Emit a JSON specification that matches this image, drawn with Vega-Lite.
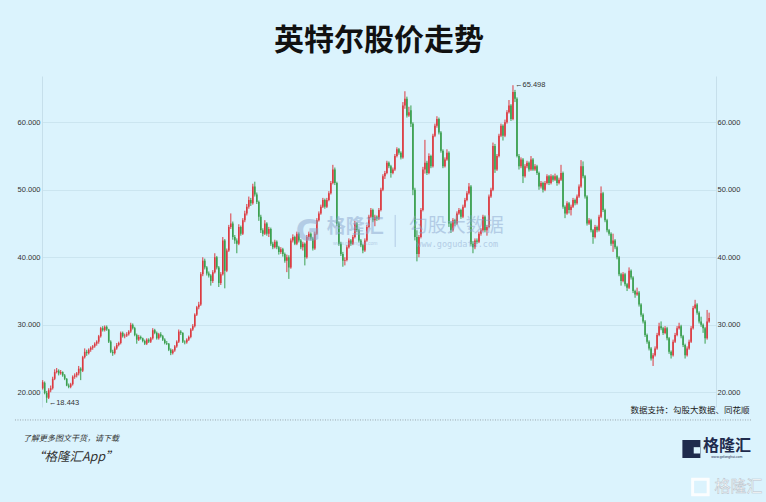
{
"$schema": "https://vega.github.io/schema/vega-lite/v6.json",
"width": 674, "height": 331,
"autosize": {"type": "none"},
"padding": {"left": 42, "top": 76, "right": 50, "bottom": 95},
"background": "#dbf3fd",
"config": {"view": {"stroke": null}, "font": "Noto Sans CJK SC"},
"title": {"text": "英特尔股价走势", "fontSize": 30, "fontWeight": "bold", "color": "#111111", "anchor": "middle", "offset": 20, "font": "Noto Sans CJK SC"},
"datasets": {
"k": [
{"i":0,"o":20.6,"h":21.8,"l":20.4,"c":21.5},{"i":1,"o":21.4,"h":21.6,"l":19.7,"c":19.9},{"i":2,"o":19.9,"h":20.2,"l":18.443,"c":19.2},{"i":3,"o":19.2,"h":20.6,"l":19.0,"c":20.3},{"i":4,"o":20.3,"h":21.0,"l":20.0,"c":20.6},
{"i":5,"o":20.6,"h":22.3,"l":20.4,"c":22.0},{"i":6,"o":22.0,"h":23.4,"l":21.8,"c":23.0},{"i":7,"o":23.0,"h":23.6,"l":22.8,"c":23.2},{"i":8,"o":23.2,"h":23.4,"l":22.5,"c":22.8},{"i":9,"o":22.8,"h":23.3,"l":22.6,"c":23.0},
{"i":10,"o":23.0,"h":23.1,"l":22.3,"c":22.5},{"i":11,"o":22.5,"h":22.7,"l":21.8,"c":22.0},{"i":12,"o":22.0,"h":22.1,"l":20.9,"c":21.0},{"i":13,"o":21.0,"h":21.3,"l":20.6,"c":20.8},{"i":14,"o":20.8,"h":21.4,"l":20.6,"c":21.2},
{"i":15,"o":21.2,"h":22.5,"l":21.0,"c":22.3},{"i":16,"o":22.3,"h":22.8,"l":22.0,"c":22.5},{"i":17,"o":22.5,"h":23.0,"l":22.2,"c":22.8},{"i":18,"o":22.8,"h":23.9,"l":22.5,"c":23.5},{"i":19,"o":23.5,"h":23.7,"l":21.8,"c":23.2},
{"i":20,"o":23.2,"h":25.4,"l":23.0,"c":25.2},{"i":21,"o":25.2,"h":26.5,"l":25.0,"c":26.0},{"i":22,"o":26.0,"h":26.3,"l":25.4,"c":25.8},{"i":23,"o":25.8,"h":26.5,"l":25.6,"c":26.3},{"i":24,"o":26.3,"h":26.8,"l":26.0,"c":26.6},
{"i":25,"o":26.6,"h":27.0,"l":26.3,"c":26.8},{"i":26,"o":26.8,"h":27.4,"l":26.6,"c":27.2},{"i":27,"o":27.2,"h":27.7,"l":26.9,"c":27.5},{"i":28,"o":27.5,"h":28.5,"l":27.2,"c":28.3},{"i":29,"o":28.3,"h":29.7,"l":28.1,"c":29.5},
{"i":30,"o":29.5,"h":29.8,"l":29.0,"c":29.2},{"i":31,"o":29.2,"h":29.9,"l":29.0,"c":29.7},{"i":32,"o":29.7,"h":29.9,"l":29.1,"c":29.3},{"i":33,"o":29.3,"h":29.4,"l":27.3,"c":27.5},{"i":34,"o":27.5,"h":27.7,"l":25.8,"c":26.0},
{"i":35,"o":26.0,"h":26.3,"l":25.4,"c":25.8},{"i":36,"o":25.8,"h":26.8,"l":25.6,"c":26.5},{"i":37,"o":26.5,"h":27.3,"l":26.3,"c":27.0},{"i":38,"o":27.0,"h":27.5,"l":26.8,"c":27.3},{"i":39,"o":27.3,"h":29.0,"l":27.1,"c":28.8},
{"i":40,"o":28.8,"h":29.0,"l":28.1,"c":28.3},{"i":41,"o":28.3,"h":28.7,"l":28.0,"c":28.4},{"i":42,"o":28.4,"h":28.9,"l":28.2,"c":28.6},{"i":43,"o":28.6,"h":29.2,"l":28.4,"c":29.0},{"i":44,"o":29.0,"h":30.3,"l":28.8,"c":30.0},
{"i":45,"o":30.0,"h":30.2,"l":29.3,"c":29.5},{"i":46,"o":29.5,"h":29.7,"l":28.3,"c":28.5},{"i":47,"o":28.5,"h":28.7,"l":27.2,"c":27.8},{"i":48,"o":27.8,"h":28.5,"l":27.6,"c":28.2},{"i":49,"o":28.2,"h":28.4,"l":27.8,"c":28.0},
{"i":50,"o":28.0,"h":28.1,"l":27.4,"c":27.6},{"i":51,"o":27.6,"h":27.8,"l":27.0,"c":27.2},{"i":52,"o":27.2,"h":28.0,"l":27.0,"c":27.8},{"i":53,"o":27.8,"h":28.0,"l":27.3,"c":27.5},{"i":54,"o":27.5,"h":28.2,"l":27.3,"c":28.0},
{"i":55,"o":28.0,"h":29.5,"l":27.8,"c":29.2},{"i":56,"o":29.2,"h":29.4,"l":28.6,"c":28.8},{"i":57,"o":28.8,"h":29.0,"l":27.8,"c":28.0},{"i":58,"o":28.0,"h":28.8,"l":27.8,"c":28.6},{"i":59,"o":28.6,"h":28.9,"l":28.1,"c":28.3},
{"i":60,"o":28.3,"h":28.5,"l":27.6,"c":27.8},{"i":61,"o":27.8,"h":28.0,"l":27.1,"c":27.3},{"i":62,"o":27.3,"h":27.6,"l":27.0,"c":27.2},{"i":63,"o":27.2,"h":27.3,"l":26.1,"c":26.3},{"i":64,"o":26.3,"h":26.5,"l":25.5,"c":25.8},
{"i":65,"o":25.8,"h":26.4,"l":25.6,"c":26.2},{"i":66,"o":26.2,"h":27.0,"l":26.0,"c":26.8},{"i":67,"o":26.8,"h":27.7,"l":26.6,"c":27.5},{"i":68,"o":27.5,"h":29.3,"l":27.3,"c":29.0},{"i":69,"o":29.0,"h":29.2,"l":28.5,"c":28.8},
{"i":70,"o":28.8,"h":28.9,"l":27.3,"c":27.5},{"i":71,"o":27.5,"h":27.7,"l":27.1,"c":27.4},{"i":72,"o":27.4,"h":28.0,"l":27.2,"c":27.8},{"i":73,"o":27.8,"h":28.4,"l":27.6,"c":28.2},{"i":74,"o":28.2,"h":29.5,"l":28.0,"c":29.3},
{"i":75,"o":29.3,"h":30.1,"l":29.1,"c":29.8},{"i":76,"o":29.8,"h":31.7,"l":29.6,"c":31.5},{"i":77,"o":31.5,"h":32.8,"l":31.3,"c":32.6},{"i":78,"o":32.6,"h":33.4,"l":32.3,"c":33.0},{"i":79,"o":33.0,"h":37.8,"l":32.8,"c":37.5},
{"i":80,"o":37.5,"h":40.0,"l":37.2,"c":39.5},{"i":81,"o":39.5,"h":39.8,"l":38.2,"c":38.5},{"i":82,"o":38.5,"h":38.7,"l":37.3,"c":37.6},{"i":83,"o":37.6,"h":37.9,"l":37.0,"c":37.3},{"i":84,"o":37.3,"h":37.5,"l":35.8,"c":36.5},
{"i":85,"o":36.5,"h":38.1,"l":36.2,"c":37.8},{"i":86,"o":37.8,"h":40.6,"l":37.6,"c":40.0},{"i":87,"o":40.0,"h":40.2,"l":38.2,"c":38.5},{"i":88,"o":38.5,"h":38.7,"l":35.6,"c":36.2},{"i":89,"o":36.2,"h":37.8,"l":35.9,"c":37.5},
{"i":90,"o":37.5,"h":43.0,"l":37.3,"c":42.5},{"i":91,"o":42.5,"h":42.7,"l":35.4,"c":38.0},{"i":92,"o":38.0,"h":41.3,"l":37.8,"c":41.0},{"i":93,"o":41.0,"h":44.8,"l":40.8,"c":44.5},{"i":94,"o":44.5,"h":46.5,"l":44.2,"c":45.0},
{"i":95,"o":45.0,"h":45.3,"l":42.6,"c":43.0},{"i":96,"o":43.0,"h":43.3,"l":42.0,"c":42.5},{"i":97,"o":42.5,"h":42.8,"l":40.6,"c":42.0},{"i":98,"o":42.0,"h":44.9,"l":41.8,"c":44.5},{"i":99,"o":44.5,"h":44.7,"l":43.2,"c":43.5},
{"i":100,"o":43.5,"h":45.8,"l":43.3,"c":45.5},{"i":101,"o":45.5,"h":46.9,"l":45.2,"c":46.5},{"i":102,"o":46.5,"h":47.9,"l":46.2,"c":47.5},{"i":103,"o":47.5,"h":49.0,"l":47.2,"c":48.5},{"i":104,"o":48.5,"h":48.8,"l":47.6,"c":48.0},
{"i":105,"o":48.0,"h":50.9,"l":47.8,"c":50.5},{"i":106,"o":50.5,"h":51.2,"l":49.0,"c":49.3},{"i":107,"o":49.3,"h":49.6,"l":47.9,"c":48.2},{"i":108,"o":48.2,"h":48.4,"l":45.4,"c":46.0},{"i":109,"o":46.0,"h":46.3,"l":43.6,"c":44.0},
{"i":110,"o":44.0,"h":44.3,"l":43.1,"c":43.5},{"i":111,"o":43.5,"h":45.5,"l":43.3,"c":45.0},{"i":112,"o":45.0,"h":45.2,"l":43.2,"c":43.5},{"i":113,"o":43.5,"h":44.5,"l":43.0,"c":44.2},{"i":114,"o":44.2,"h":44.4,"l":41.7,"c":42.0},
{"i":115,"o":42.0,"h":42.3,"l":41.2,"c":41.5},{"i":116,"o":41.5,"h":42.6,"l":41.3,"c":42.3},{"i":117,"o":42.3,"h":42.5,"l":41.2,"c":41.5},{"i":118,"o":41.5,"h":41.7,"l":40.4,"c":40.8},{"i":119,"o":40.8,"h":41.5,"l":40.5,"c":41.2},
{"i":120,"o":41.2,"h":41.4,"l":40.1,"c":40.5},{"i":121,"o":40.5,"h":40.7,"l":39.2,"c":39.5},{"i":122,"o":39.5,"h":40.4,"l":37.8,"c":40.0},{"i":123,"o":40.0,"h":40.3,"l":36.8,"c":38.5},{"i":124,"o":38.5,"h":42.8,"l":38.3,"c":42.5},
{"i":125,"o":42.5,"h":43.4,"l":42.2,"c":43.0},{"i":126,"o":43.0,"h":43.2,"l":41.8,"c":42.0},{"i":127,"o":42.0,"h":43.8,"l":41.8,"c":43.5},{"i":128,"o":43.5,"h":43.7,"l":42.2,"c":42.5},{"i":129,"o":42.5,"h":42.7,"l":41.2,"c":41.5},
{"i":130,"o":41.5,"h":42.3,"l":41.0,"c":42.0},{"i":131,"o":42.0,"h":42.2,"l":38.8,"c":40.0},{"i":132,"o":40.0,"h":43.3,"l":39.8,"c":43.0},{"i":133,"o":43.0,"h":43.8,"l":42.6,"c":43.5},{"i":134,"o":43.5,"h":43.7,"l":42.5,"c":42.8},
{"i":135,"o":42.8,"h":43.0,"l":41.0,"c":41.3},{"i":136,"o":41.3,"h":43.8,"l":41.1,"c":43.5},{"i":137,"o":43.5,"h":45.8,"l":43.3,"c":45.5},{"i":138,"o":45.5,"h":46.8,"l":45.3,"c":46.5},{"i":139,"o":46.5,"h":47.8,"l":46.3,"c":47.5},
{"i":140,"o":47.5,"h":48.8,"l":47.3,"c":48.5},{"i":141,"o":48.5,"h":48.7,"l":47.2,"c":47.5},{"i":142,"o":47.5,"h":48.8,"l":47.3,"c":48.5},{"i":143,"o":48.5,"h":49.8,"l":48.3,"c":49.5},{"i":144,"o":49.5,"h":51.3,"l":49.3,"c":51.0},
{"i":145,"o":51.0,"h":53.7,"l":50.8,"c":53.0},{"i":146,"o":53.0,"h":53.3,"l":50.7,"c":51.0},{"i":147,"o":51.0,"h":51.2,"l":44.6,"c":45.0},{"i":148,"o":45.0,"h":45.3,"l":41.7,"c":42.0},{"i":149,"o":42.0,"h":42.3,"l":40.2,"c":40.5},
{"i":150,"o":40.5,"h":40.8,"l":38.6,"c":39.5},{"i":151,"o":39.5,"h":40.0,"l":38.8,"c":39.6},{"i":152,"o":39.6,"h":41.8,"l":39.4,"c":41.5},{"i":153,"o":41.5,"h":42.8,"l":41.3,"c":42.5},{"i":154,"o":42.5,"h":42.7,"l":41.7,"c":42.0},
{"i":155,"o":42.0,"h":43.3,"l":41.8,"c":43.0},{"i":156,"o":43.0,"h":45.4,"l":42.8,"c":45.0},{"i":157,"o":45.0,"h":45.2,"l":43.7,"c":44.0},{"i":158,"o":44.0,"h":44.2,"l":42.2,"c":42.5},{"i":159,"o":42.5,"h":42.7,"l":41.5,"c":41.8},
{"i":160,"o":41.8,"h":42.0,"l":40.6,"c":41.0},{"i":161,"o":41.0,"h":42.8,"l":40.8,"c":42.5},{"i":162,"o":42.5,"h":44.8,"l":42.3,"c":44.5},{"i":163,"o":44.5,"h":46.3,"l":44.3,"c":46.0},{"i":164,"o":46.0,"h":47.3,"l":45.8,"c":47.0},
{"i":165,"o":47.0,"h":47.2,"l":45.2,"c":45.5},{"i":166,"o":45.5,"h":46.3,"l":44.6,"c":46.0},{"i":167,"o":46.0,"h":46.2,"l":45.4,"c":45.7},{"i":168,"o":45.7,"h":47.3,"l":45.5,"c":47.0},{"i":169,"o":47.0,"h":50.3,"l":46.8,"c":50.0},
{"i":170,"o":50.0,"h":52.3,"l":49.8,"c":52.0},{"i":171,"o":52.0,"h":52.8,"l":51.6,"c":52.5},{"i":172,"o":52.5,"h":54.3,"l":52.3,"c":54.0},{"i":173,"o":54.0,"h":54.2,"l":53.2,"c":53.5},{"i":174,"o":53.5,"h":53.7,"l":51.8,"c":52.5},
{"i":175,"o":52.5,"h":53.3,"l":52.3,"c":53.0},{"i":176,"o":53.0,"h":55.3,"l":52.8,"c":55.0},{"i":177,"o":55.0,"h":56.3,"l":54.8,"c":56.0},{"i":178,"o":56.0,"h":56.2,"l":55.2,"c":55.5},{"i":179,"o":55.5,"h":55.7,"l":54.5,"c":54.8},
{"i":180,"o":54.8,"h":63.0,"l":54.6,"c":62.5},{"i":181,"o":62.5,"h":64.6,"l":62.0,"c":63.5},{"i":182,"o":63.5,"h":63.8,"l":60.7,"c":61.0},{"i":183,"o":61.0,"h":62.3,"l":60.8,"c":61.5},{"i":184,"o":61.8,"h":62.5,"l":59.3,"c":59.8},
{"i":185,"o":59.8,"h":60.0,"l":49.2,"c":50.0},{"i":186,"o":50.0,"h":50.3,"l":42.5,"c":43.0},{"i":187,"o":43.0,"h":44.0,"l":39.4,"c":40.5},{"i":188,"o":40.5,"h":43.3,"l":40.0,"c":43.0},{"i":189,"o":43.0,"h":47.3,"l":42.8,"c":47.0},
{"i":190,"o":47.0,"h":53.4,"l":46.8,"c":53.0},{"i":191,"o":53.0,"h":57.4,"l":52.4,"c":54.0},{"i":192,"o":54.0,"h":54.3,"l":52.2,"c":52.5},{"i":193,"o":52.5,"h":55.4,"l":52.3,"c":55.0},{"i":194,"o":55.0,"h":55.2,"l":53.2,"c":53.5},
{"i":195,"o":53.5,"h":58.3,"l":53.3,"c":58.0},{"i":196,"o":58.0,"h":59.8,"l":57.8,"c":59.5},{"i":197,"o":59.5,"h":60.9,"l":59.2,"c":60.5},{"i":198,"o":60.5,"h":60.7,"l":58.2,"c":58.5},{"i":199,"o":58.5,"h":58.7,"l":55.5,"c":55.8},
{"i":200,"o":55.8,"h":56.0,"l":53.2,"c":53.5},{"i":201,"o":53.5,"h":54.8,"l":53.3,"c":54.5},{"i":202,"o":54.5,"h":56.0,"l":54.3,"c":55.5},{"i":203,"o":55.5,"h":55.7,"l":44.5,"c":45.0},{"i":204,"o":45.0,"h":45.3,"l":43.6,"c":44.0},
{"i":205,"o":44.0,"h":45.8,"l":43.8,"c":45.5},{"i":206,"o":45.5,"h":45.7,"l":44.6,"c":45.0},{"i":207,"o":45.0,"h":46.8,"l":44.8,"c":46.5},{"i":208,"o":46.5,"h":47.3,"l":46.3,"c":47.0},{"i":209,"o":47.0,"h":47.2,"l":45.7,"c":46.0},
{"i":210,"o":46.0,"h":47.8,"l":45.8,"c":47.5},{"i":211,"o":47.5,"h":48.8,"l":47.3,"c":48.5},{"i":212,"o":48.5,"h":49.8,"l":48.3,"c":49.5},{"i":213,"o":49.5,"h":51.0,"l":49.3,"c":50.5},{"i":214,"o":50.5,"h":50.7,"l":41.7,"c":42.0},
{"i":215,"o":42.0,"h":42.4,"l":40.6,"c":41.5},{"i":216,"o":41.5,"h":42.8,"l":41.2,"c":42.5},{"i":217,"o":42.5,"h":42.8,"l":42.0,"c":42.3},{"i":218,"o":42.3,"h":43.8,"l":42.1,"c":43.5},{"i":219,"o":43.5,"h":44.3,"l":43.2,"c":44.0},
{"i":220,"o":44.0,"h":46.3,"l":43.8,"c":46.0},{"i":221,"o":46.0,"h":46.2,"l":43.7,"c":44.0},{"i":222,"o":44.0,"h":44.8,"l":43.2,"c":44.5},{"i":223,"o":44.5,"h":49.3,"l":44.3,"c":49.0},{"i":224,"o":49.0,"h":50.3,"l":48.8,"c":50.0},
{"i":225,"o":50.0,"h":57.0,"l":49.8,"c":56.5},{"i":226,"o":56.5,"h":56.8,"l":52.5,"c":53.0},{"i":227,"o":53.0,"h":55.3,"l":52.8,"c":55.0},{"i":228,"o":55.0,"h":58.3,"l":54.8,"c":58.0},{"i":229,"o":58.0,"h":59.8,"l":57.8,"c":59.5},
{"i":230,"o":59.5,"h":59.7,"l":57.3,"c":58.0},{"i":231,"o":58.0,"h":60.4,"l":57.8,"c":60.0},{"i":232,"o":60.0,"h":61.8,"l":59.8,"c":61.5},{"i":233,"o":61.5,"h":63.3,"l":61.3,"c":62.5},{"i":234,"o":62.5,"h":62.7,"l":60.2,"c":60.5},
{"i":235,"o":60.5,"h":65.498,"l":60.3,"c":64.5},{"i":236,"o":64.5,"h":64.8,"l":63.0,"c":63.5},{"i":237,"o":63.5,"h":63.7,"l":54.8,"c":55.0},{"i":238,"o":55.0,"h":55.3,"l":53.0,"c":53.5},{"i":239,"o":53.5,"h":54.8,"l":53.2,"c":54.5},
{"i":240,"o":54.5,"h":54.7,"l":51.0,"c":52.0},{"i":241,"o":52.0,"h":53.8,"l":51.8,"c":53.5},{"i":242,"o":53.5,"h":54.3,"l":53.2,"c":54.0},{"i":243,"o":54.0,"h":54.2,"l":52.7,"c":53.0},{"i":244,"o":53.0,"h":55.0,"l":52.8,"c":54.5},
{"i":245,"o":54.5,"h":54.7,"l":52.8,"c":53.0},{"i":246,"o":53.0,"h":53.8,"l":52.8,"c":53.5},{"i":247,"o":53.5,"h":53.7,"l":52.2,"c":52.5},{"i":248,"o":52.5,"h":52.7,"l":50.0,"c":50.5},{"i":249,"o":50.5,"h":51.3,"l":50.2,"c":51.0},
{"i":250,"o":51.0,"h":51.2,"l":49.6,"c":50.0},{"i":251,"o":50.0,"h":51.3,"l":49.8,"c":51.0},{"i":252,"o":51.0,"h":52.3,"l":50.8,"c":52.0},{"i":253,"o":52.0,"h":52.2,"l":50.7,"c":51.0},{"i":254,"o":51.0,"h":52.3,"l":50.8,"c":52.0},
{"i":255,"o":52.0,"h":52.2,"l":51.2,"c":51.5},{"i":256,"o":51.5,"h":52.4,"l":51.3,"c":52.0},{"i":257,"o":52.0,"h":52.2,"l":50.6,"c":51.0},{"i":258,"o":51.0,"h":51.8,"l":50.8,"c":51.5},{"i":259,"o":51.5,"h":53.7,"l":51.3,"c":52.5},
{"i":260,"o":52.5,"h":52.7,"l":47.2,"c":47.5},{"i":261,"o":47.5,"h":47.7,"l":45.8,"c":46.5},{"i":262,"o":46.5,"h":48.3,"l":46.3,"c":48.0},{"i":263,"o":48.0,"h":48.2,"l":46.5,"c":47.0},{"i":264,"o":47.0,"h":47.8,"l":46.2,"c":47.5},
{"i":265,"o":47.5,"h":48.8,"l":47.3,"c":48.5},{"i":266,"o":48.5,"h":48.7,"l":47.7,"c":48.0},{"i":267,"o":48.0,"h":49.3,"l":47.8,"c":49.0},{"i":268,"o":49.0,"h":50.8,"l":48.8,"c":50.5},{"i":269,"o":50.5,"h":54.4,"l":50.3,"c":53.5},
{"i":270,"o":53.5,"h":54.2,"l":51.7,"c":52.0},{"i":271,"o":52.0,"h":52.2,"l":48.7,"c":49.0},{"i":272,"o":49.0,"h":49.2,"l":44.7,"c":45.0},{"i":273,"o":45.0,"h":45.8,"l":44.8,"c":45.5},{"i":274,"o":45.5,"h":45.7,"l":43.7,"c":44.0},
{"i":275,"o":44.0,"h":44.2,"l":42.0,"c":43.0},{"i":276,"o":43.0,"h":44.8,"l":42.8,"c":44.5},{"i":277,"o":44.5,"h":44.7,"l":43.7,"c":44.0},{"i":278,"o":44.0,"h":46.3,"l":43.8,"c":46.0},{"i":279,"o":46.0,"h":50.5,"l":45.8,"c":49.5},
{"i":280,"o":49.5,"h":49.7,"l":46.7,"c":47.0},{"i":281,"o":47.0,"h":47.2,"l":45.2,"c":45.5},{"i":282,"o":45.5,"h":45.7,"l":43.7,"c":44.0},{"i":283,"o":44.0,"h":44.2,"l":43.2,"c":43.5},{"i":284,"o":43.5,"h":43.7,"l":41.7,"c":42.0},
{"i":285,"o":42.0,"h":43.5,"l":40.8,"c":42.5},{"i":286,"o":42.5,"h":42.7,"l":41.2,"c":41.5},{"i":287,"o":41.5,"h":41.7,"l":39.7,"c":40.0},{"i":288,"o":40.0,"h":40.2,"l":37.2,"c":37.5},{"i":289,"o":37.5,"h":37.7,"l":35.8,"c":36.5},
{"i":290,"o":36.5,"h":37.8,"l":36.3,"c":37.5},{"i":291,"o":37.5,"h":37.7,"l":35.7,"c":36.0},{"i":292,"o":36.0,"h":36.2,"l":35.0,"c":35.5},{"i":293,"o":35.5,"h":38.5,"l":35.3,"c":38.0},{"i":294,"o":38.0,"h":38.2,"l":36.7,"c":37.0},
{"i":295,"o":37.0,"h":37.2,"l":34.7,"c":35.0},{"i":296,"o":35.0,"h":35.2,"l":34.0,"c":34.5},{"i":297,"o":34.5,"h":35.5,"l":34.3,"c":34.8},{"i":298,"o":34.8,"h":35.0,"l":32.7,"c":33.0},{"i":299,"o":33.0,"h":33.2,"l":31.2,"c":31.5},
{"i":300,"o":31.5,"h":31.7,"l":30.2,"c":30.5},{"i":301,"o":30.5,"h":30.7,"l":28.2,"c":28.5},{"i":302,"o":28.5,"h":28.7,"l":27.2,"c":27.5},{"i":303,"o":27.5,"h":27.7,"l":26.2,"c":26.5},{"i":304,"o":26.5,"h":26.7,"l":24.7,"c":25.0},
{"i":305,"o":25.0,"h":25.8,"l":23.9,"c":25.5},{"i":306,"o":25.5,"h":26.8,"l":25.3,"c":26.5},{"i":307,"o":26.5,"h":28.8,"l":26.3,"c":28.5},{"i":308,"o":28.5,"h":30.3,"l":28.3,"c":29.8},{"i":309,"o":29.8,"h":30.5,"l":29.2,"c":29.5},
{"i":310,"o":29.5,"h":29.7,"l":28.5,"c":28.8},{"i":311,"o":28.8,"h":29.8,"l":28.6,"c":29.5},{"i":312,"o":29.5,"h":29.7,"l":27.7,"c":28.0},{"i":313,"o":28.0,"h":28.2,"l":25.7,"c":26.0},{"i":314,"o":26.0,"h":26.2,"l":25.0,"c":25.5},
{"i":315,"o":25.5,"h":27.8,"l":25.3,"c":27.5},{"i":316,"o":27.5,"h":28.8,"l":27.3,"c":28.5},{"i":317,"o":28.5,"h":29.8,"l":28.3,"c":29.5},{"i":318,"o":29.5,"h":30.3,"l":29.3,"c":29.8},{"i":319,"o":29.8,"h":30.0,"l":28.0,"c":28.3},
{"i":320,"o":28.3,"h":28.5,"l":26.7,"c":27.0},{"i":321,"o":27.0,"h":27.2,"l":25.0,"c":25.5},{"i":322,"o":25.5,"h":26.8,"l":25.3,"c":26.5},{"i":323,"o":26.5,"h":27.8,"l":26.3,"c":27.5},{"i":324,"o":27.5,"h":29.8,"l":27.3,"c":29.5},
{"i":325,"o":29.5,"h":32.8,"l":29.3,"c":32.5},{"i":326,"o":32.5,"h":33.7,"l":32.3,"c":33.0},{"i":327,"o":33.0,"h":33.2,"l":31.5,"c":31.8},{"i":328,"o":31.8,"h":32.0,"l":30.2,"c":30.5},{"i":329,"o":30.5,"h":31.2,"l":29.7,"c":30.0},
{"i":330,"o":30.0,"h":30.2,"l":28.8,"c":29.5},{"i":331,"o":29.5,"h":29.7,"l":27.2,"c":28.0},{"i":332,"o":28.0,"h":32.2,"l":27.8,"c":30.5},{"i":333,"o":30.5,"h":31.8,"l":30.3,"c":31.0}
],
"marks": [
{"i":2,"v":18.443,"t":"←18.443"},
{"i":235,"v":65.498,"t":"←65.498"}
]
},
"layer": [
{"data": {"name": "k"}, "mark": {"type": "rule", "strokeWidth": 1},
 "encoding": {
  "x": {"field": "i", "type": "quantitative", "scale": {"domain": [-0.35, 336.45], "nice": false, "zero": false}, "axis": null},
  "y": {"field": "l", "type": "quantitative", "scale": {"domain": [17.82, 66.86], "nice": false, "zero": false},
        "axis": {"orient": "left", "values": [20, 30, 40, 50, 60], "format": ".3f", "grid": true, "gridColor": "#cbe5f0", "gridWidth": 1, "domain": true, "domainColor": "#c6dfeb", "ticks": false, "labelPadding": 2, "labelFontSize": 7.5, "labelColor": "#333333", "labelFont": "Liberation Sans", "title": null}},
  "y2": {"field": "h"},
  "color": {"condition": {"test": "datum.c >= datum.o", "value": "#dc3a40"}, "value": "#3a9f4e"}
 }},
{"data": {"name": "k"}, "mark": {"type": "rule", "strokeWidth": 1.6},
 "encoding": {
  "x": {"field": "i", "type": "quantitative", "axis": null},
  "y": {"field": "o", "type": "quantitative",
        "axis": {"orient": "right", "values": [20, 30, 40, 50, 60], "format": ".3f", "grid": false, "domain": true, "domainColor": "#c6dfeb", "ticks": false, "labelPadding": 1, "labelFontSize": 7.5, "labelColor": "#333333", "labelFont": "Liberation Sans", "title": null}},
  "y2": {"field": "c"},
  "color": {"condition": {"test": "datum.c >= datum.o", "value": "#dc3a40"}, "value": "#3a9f4e"}
 }},
{"data": {"name": "marks"}, "mark": {"type": "text", "align": "left", "baseline": "middle", "dx": 2, "fontSize": 7.5, "font": "Liberation Sans", "color": "#333333"},
 "encoding": {"x": {"field": "i", "type": "quantitative", "axis": null}, "y": {"field": "v", "type": "quantitative", "axis": null}, "text": {"field": "t"}}},
{"data": {"values": [{}]}, "mark": {"type": "text", "text": "G", "fontSize": 30, "fontWeight": "bold", "font": "DejaVu Sans", "color": "#8ca7cf", "opacity": 0.5, "baseline": "middle"},
 "encoding": {"x": {"datum": 132.65, "type": "quantitative", "axis": null}, "y": {"datum": 43.75, "type": "quantitative", "axis": null}}},
{"data": {"values": [{}]}, "mark": {"type": "text", "text": "格隆汇", "fontSize": 19, "fontWeight": "bold", "color": "#8ca7cf", "opacity": 0.5, "baseline": "middle"},
 "encoding": {"x": {"datum": 156.15, "type": "quantitative", "axis": null}, "y": {"datum": 44.5, "type": "quantitative", "axis": null}}},
{"data": {"values": [{}]}, "mark": {"type": "text", "text": "www.gelonghui.com", "fontSize": 5, "font": "Liberation Sans", "color": "#8ca7cf", "opacity": 0.5, "baseline": "middle"},
 "encoding": {"x": {"datum": 156.15, "type": "quantitative", "axis": null}, "y": {"datum": 42.1, "type": "quantitative", "axis": null}}},
{"data": {"values": [{}]}, "mark": {"type": "rule", "color": "#8ca7cf", "opacity": 0.5, "strokeWidth": 1},
 "encoding": {"x": {"datum": 176.15, "type": "quantitative", "axis": null}, "y": {"datum": 46.27, "type": "quantitative", "axis": null}, "y2": {"datum": 41.53}}},
{"data": {"values": [{}]}, "mark": {"type": "text", "text": "勾股大数据", "fontSize": 19, "color": "#8ca7cf", "opacity": 0.5, "baseline": "middle"},
 "encoding": {"x": {"datum": 206.65, "type": "quantitative", "axis": null}, "y": {"datum": 44.6, "type": "quantitative", "axis": null}}},
{"data": {"values": [{}]}, "mark": {"type": "text", "text": "www.gogudata.com", "fontSize": 8.5, "font": "DejaVu Sans Mono", "color": "#8ca7cf", "opacity": 0.5, "baseline": "middle"},
 "encoding": {"x": {"datum": 207.15, "type": "quantitative", "axis": null}, "y": {"datum": 41.95, "type": "quantitative", "axis": null}}},
{"data": {"values": [{}]}, "mark": {"type": "text", "text": "数据支持：勾股大数据、同花顺", "fontSize": 8.5, "color": "#1a1a1a", "align": "right", "baseline": "middle"},
 "encoding": {"x": {"datum": 353.2, "type": "quantitative", "axis": null}, "y": {"datum": 17.38, "type": "quantitative", "axis": null}}},
{"data": {"values": [{}]}, "mark": {"type": "rule", "color": "#9aa5ab", "strokeDash": [1, 1.5], "strokeWidth": 1},
 "encoding": {"x": {"datum": -13.85, "type": "quantitative", "axis": null}, "x2": {"datum": 354.15}, "y": {"datum": 15.9, "type": "quantitative", "axis": null}}},
{"data": {"values": [{}]}, "mark": {"type": "text", "text": "了解更多图文干货，请下载", "fontSize": 8, "fontStyle": "italic", "color": "#333333", "align": "left", "baseline": "middle"},
 "encoding": {"x": {"datum": -9.85, "type": "quantitative", "axis": null}, "y": {"datum": 13.08, "type": "quantitative", "axis": null}}},
{"data": {"values": [{}]}, "mark": {"type": "text", "text": "“格隆汇App”", "fontSize": 12.5, "fontStyle": "italic", "color": "#333333", "align": "left", "baseline": "middle"},
 "encoding": {"x": {"datum": -5.35, "type": "quantitative", "axis": null}, "y": {"datum": 10.42, "type": "quantitative", "axis": null}}},
{"data": {"values": [{}]}, "mark": {"type": "point", "shape": "square", "size": 324, "filled": true, "color": "#1f2b4d", "opacity": 1},
 "encoding": {"x": {"datum": 324.15, "type": "quantitative", "axis": null}, "y": {"datum": 11.6, "type": "quantitative", "axis": null}}},
{"data": {"values": [{}]}, "mark": {"type": "point", "shape": "square", "size": 40, "filled": true, "color": "#dbf3fd", "opacity": 1},
 "encoding": {"x": {"datum": 326.9, "type": "quantitative", "axis": null}, "y": {"datum": 11.4, "type": "quantitative", "axis": null}}},
{"data": {"values": [{}]}, "mark": {"type": "text", "text": "格隆汇", "fontSize": 16, "fontWeight": "bold", "color": "#1f2b4d", "baseline": "middle"},
 "encoding": {"x": {"datum": 341.9, "type": "quantitative", "axis": null}, "y": {"datum": 11.97, "type": "quantitative", "axis": null}}},
{"data": {"values": [{}]}, "mark": {"type": "text", "text": "www.gelonghui.com", "fontSize": 3.5, "font": "Liberation Sans", "color": "#1f2b4d", "baseline": "middle"},
 "encoding": {"x": {"datum": 341.9, "type": "quantitative", "axis": null}, "y": {"datum": 10.41, "type": "quantitative", "axis": null}}},
{"data": {"values": [{}]}, "mark": {"type": "point", "shape": "square", "size": 240, "filled": false, "color": "#ffffff", "strokeWidth": 3, "opacity": 0.9},
 "encoding": {"x": {"datum": 328.65, "type": "quantitative", "axis": null}, "y": {"datum": 5.97, "type": "quantitative", "axis": null}}},
{"data": {"values": [{}]}, "mark": {"type": "text", "text": "格隆汇", "fontSize": 16, "color": "#ffffff", "stroke": "#b9c3cc", "strokeWidth": 0.5, "baseline": "middle"},
 "encoding": {"x": {"datum": 347.65, "type": "quantitative", "axis": null}, "y": {"datum": 5.97, "type": "quantitative", "axis": null}}}
],
"resolve": {"axis": {"y": "independent"}}
}
